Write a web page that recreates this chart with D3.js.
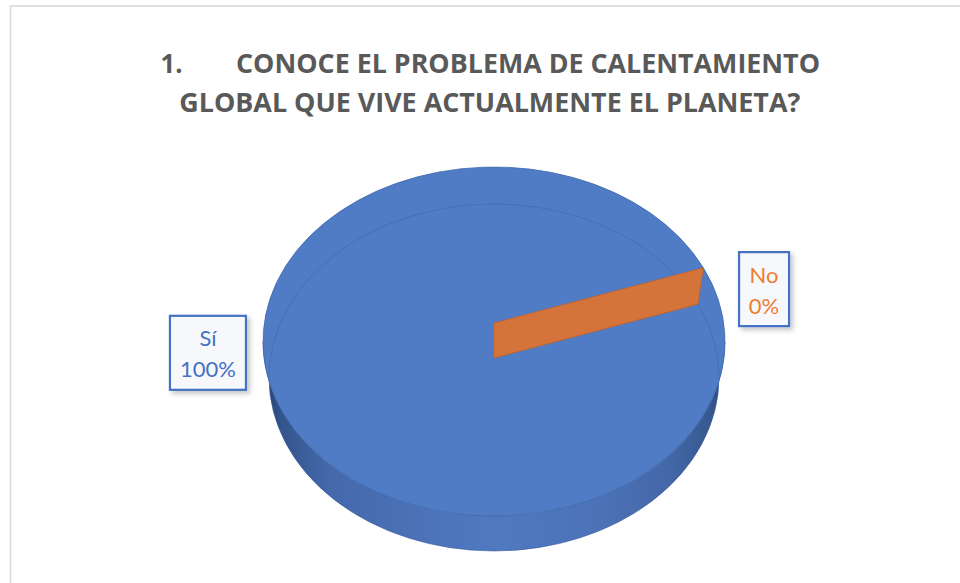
<!DOCTYPE html>
<html>
<head>
<meta charset="utf-8">
<script src="https://cdn.jsdelivr.net/npm/d3@7"></script>
<style>
  body { margin: 0; background: #fff; }
  svg { display: block; font-family: Lato, "Open Sans", sans-serif; }
</style>
</head>
<body>
<div id="chart"></div>
<script>
// data
const categories = ["Sí", "No"];
const values = [100, 0];
const percentLabels = ["100%", "0%"];
const titleNumber = "1.";
const titleLines = ["CONOCE EL PROBLEMA DE CALENTAMIENTO", "GLOBAL QUE VIVE ACTUALMENTE EL PLANETA?"];

const width = 960;
const height = 583;
const colors = d3.scaleOrdinal().domain(categories).range(["#4F7CC5", "#D5743A"]);
const wallColors = d3.scaleOrdinal().domain(categories).range(["#4A74BC", "#D5743A"]);
const textColors = d3.scaleOrdinal().domain(categories).range(["#4472C4", "#ED7D31"]);

// 3d pie layout (top face, bottom face, perspective centres)
const topE = { cx: 494, cy: 341.5, rx: 231, ry: 174.5 };
const botE = { cx: 494, cy: 377.5, rx: 225, ry: 173.5 };
const topCenter = [494, 323];
const botCenter = [494, 358];
const firstSliceAngle = (65 * Math.PI) / 180;
// label placement: angle (deg, clockwise from 12 o'clock) and radial factor
const labelLayout = [
	{ angle: 267, r: 1.24 },
	{ angle: 75.6, r: 1.207 },
];

// a: clockwise from 12 o'clock
const pt = (e, a, r = 1) => [e.cx + e.rx * r * Math.sin(a), e.cy - e.ry * r * Math.cos(a)];

const pie = d3
	.pie()
	.sort(null)
	.value((d) => d)
	.startAngle(firstSliceAngle)
	.endAngle(firstSliceAngle + 2 * Math.PI);
const arcs = pie(values);

const svg = d3
	.select("#chart")
	.append("svg")
	.attr("width", width)
	.attr("height", height);

const defs = svg.append("defs");
const sideGrad = defs
	.append("linearGradient")
	.attr("id", "side")
	.attr("gradientUnits", "userSpaceOnUse")
	.attr("x1", topE.cx - topE.rx)
	.attr("x2", topE.cx + topE.rx)
	.attr("y1", 0)
	.attr("y2", 0);
[
	[0, "#263f6d"],
	[0.04, "#34548c"],
	[0.14, "#4468aa"],
	[0.35, "#4c73b9"],
	[0.5, "#5079c0"],
	[0.72, "#4c73b8"],
	[0.88, "#4467a8"],
	[0.97, "#37588f"],
	[1, "#2a4476"],
].forEach(([o, c]) => sideGrad.append("stop").attr("offset", o).attr("stop-color", c));

const shadow = defs.append("filter").attr("id", "shadow").attr("x", "-20%").attr("y", "-20%").attr("width", "150%").attr("height", "150%");
shadow
	.append("feDropShadow")
	.attr("dx", 3)
	.attr("dy", 3)
	.attr("stdDeviation", 2.5)
	.attr("flood-color", "#000")
	.attr("flood-opacity", 0.22);

// chart area border
svg
	.append("rect")
	.attr("x", 10.5)
	.attr("y", 6)
	.attr("width", width + 20)
	.attr("height", height + 20)
	.attr("fill", "#fff")
	.attr("stroke", "#D9D9D9")
	.attr("stroke-width", 1.6);

// title
const title = svg
	.append("g")
	.attr("fill", "#595959")
	.attr("font-family", "'Open Sans', sans-serif")
	.attr("font-weight", 700)
	.attr("font-size", 27);
title
	.append("text")
	.attr("x", 160.5)
	.attr("y", 73.3)
	.attr("textLength", 22)
	.attr("lengthAdjust", "spacingAndGlyphs")
	.text(titleNumber);
title
	.append("text")
	.attr("x", 236)
	.attr("y", 73.3)
	.attr("textLength", 584)
	.attr("lengthAdjust", "spacingAndGlyphs")
	.text(titleLines[0]);
title
	.append("text")
	.attr("x", 179.3)
	.attr("y", 112)
	.attr("textLength", 621)
	.attr("lengthAdjust", "spacingAndGlyphs")
	.text(titleLines[1]);

const pieG = svg.append("g");

// side wall (front half)
const right = Math.PI / 2;
const left = (3 * Math.PI) / 2;
const tr = pt(topE, right);
const tl = pt(topE, left);
const bl = pt(botE, left);
const br = pt(botE, right);
pieG
	.append("path")
	.attr(
		"d",
		`M${tr}A${topE.rx},${topE.ry} 0 0 1 ${tl}L${bl}A${botE.rx},${botE.ry} 0 0 0 ${br}Z`
	)
	.attr("fill", "url(#side)")
	.attr("stroke", "#3A5D9C")
	.attr("stroke-width", 0.6);

// top face, one sector per slice
const sectorPath = (d) => {
	const span = d.endAngle - d.startAngle;
	if (span <= 0) return null;
	if (span >= 2 * Math.PI - 1e-6) {
		const p0 = pt(topE, d.startAngle);
		const p1 = pt(topE, d.startAngle + Math.PI);
		return `M${p0}A${topE.rx},${topE.ry} 0 1 1 ${p1}A${topE.rx},${topE.ry} 0 1 1 ${p0}Z`;
	}
	const p0 = pt(topE, d.startAngle);
	const p1 = pt(topE, d.endAngle);
	return `M${topCenter}L${p0}A${topE.rx},${topE.ry} 0 ${span > Math.PI ? 1 : 0} 1 ${p1}Z`;
};

pieG
	.selectAll("path.top")
	.data(arcs)
	.join("path")
	.attr("class", "top")
	.attr("d", sectorPath)
	.attr("fill", (d, i) => colors(categories[i]))
	.attr("stroke", "#4269AE")
	.attr("stroke-width", 0.8);

// back edge of the bottom face, seen through the top
pieG
	.append("path")
	.attr("d", `M${bl}A${botE.rx},${botE.ry} 0 0 1 ${br}`)
	.attr("fill", "none")
	.attr("stroke", "#4670B8")
	.attr("stroke-width", 1);

// cut walls at each slice start
pieG
	.selectAll("path.wall")
	.data(arcs)
	.join("path")
	.attr("class", "wall")
	.attr("d", (d) => {
		const a = d.startAngle;
		return `M${topCenter}L${pt(topE, a)}L${pt(botE, a)}L${botCenter}Z`;
	})
	.attr("fill", (d, i) => wallColors(categories[i]))
	.attr("stroke", (d, i) => (i === 0 ? "none" : "#C4622A"))
	.attr("stroke-width", 0.8);

// data labels
const labels = svg
	.selectAll("g.label")
	.data(arcs)
	.join("g")
	.attr("class", "label")
	.attr("transform", (d, i) => {
		const l = labelLayout[i];
		const [x, y] = pt(topE, (l.angle * Math.PI) / 180, l.r);
		return `translate(${x},${y})`;
	});

const boxes = labels
	.append("rect")
	.attr("fill", "#F7F8FB")
	.attr("stroke", "#4472C4")
	.attr("stroke-width", 2.2)
	.attr("filter", "url(#shadow)");

labels
	.append("text")
	.attr("text-anchor", "middle")
	.attr("font-size", 22)
	.attr("fill", (d, i) => textColors(categories[i]))
	.each(function (d, i) {
		const t = d3.select(this);
		t.append("tspan").attr("x", 0).attr("y", -6.5).text(categories[i]);
		t.append("tspan").attr("x", 0).attr("y", 24.5).text(percentLabels[i]);
	});

boxes.each(function () {
	const txt = this.parentNode.querySelector("text");
	const w = Math.round(txt.getBBox().width + 20);
	d3.select(this)
		.attr("x", -w / 2)
		.attr("y", -37)
		.attr("width", w)
		.attr("height", 74);
});
</script>
</body>
</html>
